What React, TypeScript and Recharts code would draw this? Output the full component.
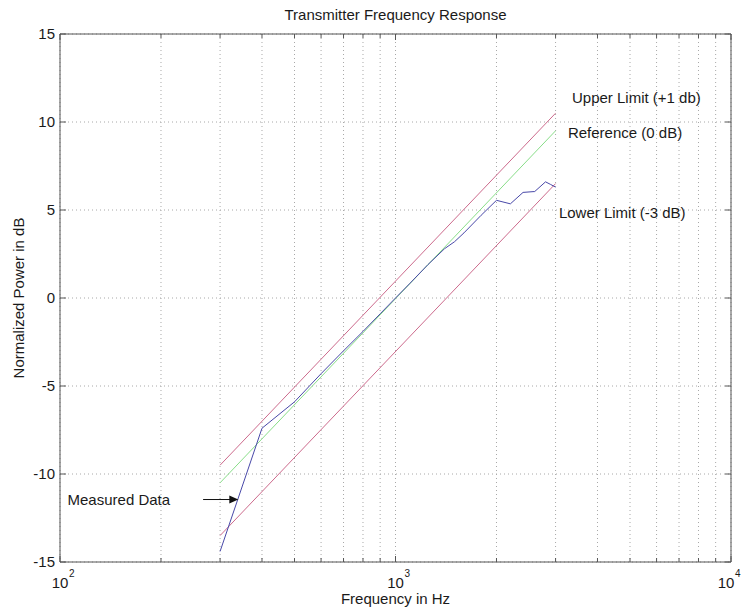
import React from 'react';
import { LineChart, Line, XAxis, YAxis, CartesianGrid, ReferenceLine, ReferenceDot } from 'recharts';

// ---- data ----
const limitFreq = [300, 3000];
const upperLimit = [-9.5, 10.5];
const referenceLevel = [-10.5, 9.5];
const lowerLimit = [-13.5, 6.5];

const measuredFreq = [300, 400, 500, 600, 700, 800, 900, 1000, 1100, 1250, 1400, 1500, 1600, 1800, 2000, 2200, 2400, 2600, 2800, 2900, 3000];
const measuredDb = [-14.4, -7.4, -5.9, -4.3, -3.0, -1.9, -0.9, 0.0, 0.8, 1.9, 2.8, 3.2, 3.7, 4.7, 5.55, 5.35, 6.0, 6.05, 6.6, 6.45, 6.3];

const xTicks = [100, 200, 300, 400, 500, 600, 700, 800, 900, 1000, 2000, 3000, 4000, 5000, 6000, 7000, 8000, 9000, 10000];
const yTicks = [-15, -10, -5, 0, 5, 10, 15];

const titleText = 'Transmitter Frequency Response';
const xLabel = 'Frequency in Hz';
const yLabel = 'Normalized Power in dB';
const annotationText = 'Measured Data';
const arrowFrom = { f: 267, db: -11.45 };
const arrowTo = { f: 340, db: -11.45 };

const seriesLabels = [
  { text: 'Upper Limit (+1 db)', f: 3357, db: 11.36 },
  { text: 'Reference (0 dB)', f: 3266, db: 9.4 },
  { text: 'Lower Limit (-3 dB)', f: 3069, db: 4.83 },
];

const toPoints = (fs: number[], vs: number[]) => fs.map((f, i) => ({ f, v: vs[i] }));
const upperData = toPoints(limitFreq, upperLimit);
const refData = toPoints(limitFreq, referenceLevel);
const lowerData = toPoints(limitFreq, lowerLimit);
const measuredData = toPoints(measuredFreq, measuredDb);

// ---- styles ----
const FONT = 'Arial, "Liberation Sans", Helvetica, sans-serif';
const AXIS = '#555555';
const TEXT = '#1a1a1a';
const LIMIT = '#cc6a8c';
const REF = '#88dd88';
const MEAS = '#4848a8';

const W = 743;
const H = 611;
const TOP_H = 34;
const BOTTOM_H = 49;
const LEFT_W = 60;
const RIGHT_W = 12;

const isDecade = (v: number) => {
  const e = Math.round(Math.log10(v));
  return Math.abs(Math.pow(10, e) - v) < 1e-6;
};

const BottomTick = (props: any) => {
  const { x, y, payload } = props;
  const v = payload.value;
  const e = Math.round(Math.log10(v));
  const dec = isDecade(v);
  const shift = x > W - 20 ? -5 : 0;
  return (
    <g>
      <line x1={x} x2={x} y1={y} y2={y - (dec ? 6 : 4)} stroke={AXIS} />
      {dec && (
        <g fontFamily={FONT} fill={TEXT}>
          <text x={x + shift} y={y + 26} textAnchor="middle" fontSize={15}>10</text>
          <text x={x + shift + 9} y={y + 15} fontSize={10}>{e}</text>
        </g>
      )}
    </g>
  );
};

const TopTick = (props: any) => {
  const { x, y, payload } = props;
  const dec = isDecade(payload.value);
  return <line x1={x} x2={x} y1={y} y2={y + (dec ? 6 : 4)} stroke={AXIS} />;
};

const LeftTick = (props: any) => {
  const { x, y, payload } = props;
  return (
    <g>
      <line x1={x} x2={x + 6} y1={y} y2={y} stroke={AXIS} />
      <text x={x - 5} y={y + 5} textAnchor="end" fontSize={15} fontFamily={FONT} fill={TEXT}>
        {payload.value}
      </text>
    </g>
  );
};

const RightTick = (props: any) => {
  const { x, y } = props;
  return <line x1={x} x2={x - 6} y1={y} y2={y} stroke={AXIS} />;
};

const ArrowShape = (props: any) => {
  const { x1, y1, x2, y2 } = props;
  if (x1 == null) return null;
  return (
    <g>
      <line x1={x1} y1={y1} x2={x2 - 7} y2={y2} stroke="#111" strokeWidth={1} />
      <polygon points={`${x2},${y2} ${x2 - 9},${y2 - 4} ${x2 - 9},${y2 + 4}`} fill="#111" />
      <text x={x1 - 33} y={y1 + 5} textAnchor="end" fontSize={15} fontFamily={FONT} fill={TEXT}>
        {annotationText}
      </text>
    </g>
  );
};

const makeLabelShape = (text: string) => (props: any) => (
  <text x={props.cx} y={props.cy + 5} textAnchor="start" fontSize={15} fontFamily={FONT} fill={TEXT}>
    {text}
  </text>
);

export default function App() {
  const plotW = W - LEFT_W - RIGHT_W;
  const plotH = H - TOP_H - BOTTOM_H;
  return (
    <div style={{ position: 'absolute', left: 0, top: 0, width: W, height: H, background: '#fff' }}>
      <LineChart width={W} height={H} margin={{ top: 0, right: 0, bottom: 0, left: 0 }}>
        <CartesianGrid stroke="#a8a8a8" strokeDasharray="1 3" />
        <XAxis
          dataKey="f"
          type="number"
          scale="log"
          domain={[100, 10000]}
          ticks={xTicks}
          allowDataOverflow
          height={BOTTOM_H}
          tickSize={0}
          tickMargin={0}
          tickLine={false}
          axisLine={{ stroke: AXIS }}
          tick={<BottomTick />}
          interval={0}
        />
        <XAxis
          xAxisId="top"
          orientation="top"
          dataKey="f"
          type="number"
          scale="log"
          domain={[100, 10000]}
          ticks={xTicks}
          allowDataOverflow
          height={TOP_H}
          tickSize={0}
          tickMargin={0}
          tickLine={false}
          axisLine={{ stroke: AXIS }}
          tick={<TopTick />}
          interval={0}
        />
        <YAxis
          type="number"
          domain={[-15, 15]}
          ticks={yTicks}
          allowDataOverflow
          width={LEFT_W}
          tickSize={0}
          tickMargin={0}
          tickLine={false}
          axisLine={{ stroke: AXIS }}
          tick={<LeftTick />}
          interval={0}
        />
        <YAxis
          yAxisId="right"
          orientation="right"
          type="number"
          domain={[-15, 15]}
          ticks={yTicks}
          allowDataOverflow
          width={RIGHT_W}
          tickSize={0}
          tickMargin={0}
          tickLine={false}
          axisLine={{ stroke: AXIS }}
          tick={<RightTick />}
          interval={0}
        />
        <Line data={upperData} dataKey="v" stroke={LIMIT} strokeWidth={1} dot={false} isAnimationActive={false} />
        <Line data={refData} dataKey="v" stroke={REF} strokeWidth={1} dot={false} isAnimationActive={false} />
        <Line data={lowerData} dataKey="v" stroke={LIMIT} strokeWidth={1} dot={false} isAnimationActive={false} />
        <Line data={measuredData} dataKey="v" stroke={MEAS} strokeWidth={1} dot={false} isAnimationActive={false} />
        <ReferenceLine
          segment={[{ x: arrowFrom.f, y: arrowFrom.db }, { x: arrowTo.f, y: arrowTo.db }]}
          shape={ArrowShape}
          ifOverflow="visible"
        />
        {seriesLabels.map((l) => (
          <ReferenceDot key={l.text} x={l.f} y={l.db} r={0} ifOverflow="visible" shape={makeLabelShape(l.text)} />
        ))}
        <text x={LEFT_W + plotW / 2} y={20} textAnchor="middle" fontSize={15} fontFamily={FONT} fill={TEXT}>
          {titleText}
        </text>
        <text x={LEFT_W + plotW / 2} y={604} textAnchor="middle" fontSize={15} fontFamily={FONT} fill={TEXT}>
          {xLabel}
        </text>
        <text
          x={24}
          y={TOP_H + plotH / 2}
          textAnchor="middle"
          fontSize={15}
          fontFamily={FONT}
          fill={TEXT}
          transform={`rotate(-90 24 ${TOP_H + plotH / 2})`}
        >
          {yLabel}
        </text>
      </LineChart>
    </div>
  );
}
